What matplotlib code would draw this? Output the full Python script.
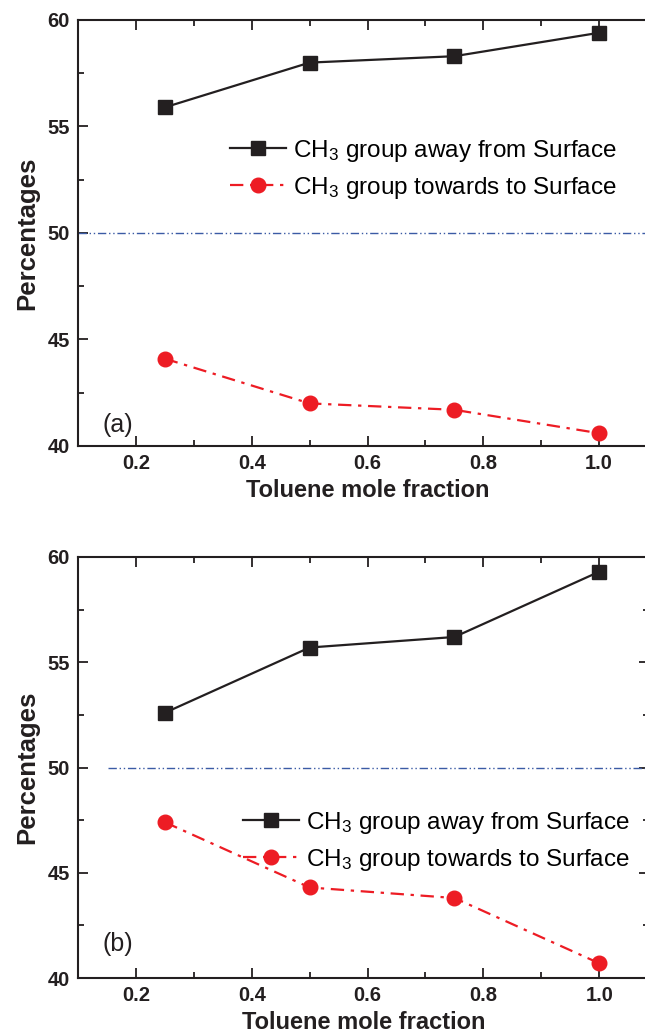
import matplotlib
matplotlib.use("Agg")
import matplotlib.pyplot as plt
from matplotlib.ticker import MultipleLocator

# ---------------------------------------------------------------------------
# Data
# ---------------------------------------------------------------------------
mole_fraction = [0.25, 0.5, 0.75, 1.0]

away_a = [55.9, 58.0, 58.3, 59.4]
towards_a = [44.1, 42.0, 41.7, 40.6]

away_b = [52.6, 55.7, 56.2, 59.3]
towards_b = [47.4, 44.3, 43.8, 40.7]

label_away = "CH$_3$ group away from Surface"
label_towards = "CH$_3$ group towards to Surface"

plt.rcParams["font.family"] = ["Liberation Sans", "DejaVu Sans"]
plt.rcParams["mathtext.default"] = "regular"

W, H = 645, 1036
BLACK = "#231f20"
RED = "#ed1c24"
BLUE = "#3b5ba5"

fig = plt.figure(figsize=(W / 100, H / 100), dpi=100)


def px_axes(left, right, top, bottom):
    return fig.add_axes([left / W, 1 - bottom / H, (right - left) / W, (bottom - top) / H])


def style_axes(ax, xmax):
    ax.set_xlim(0.1, xmax)
    ax.set_ylim(40, 60)
    ax.xaxis.set_minor_locator(MultipleLocator(0.1))
    ax.yaxis.set_minor_locator(MultipleLocator(2.5))
    ax.set_xticks([0.2, 0.4, 0.6, 0.8, 1.0])
    ax.set_xticklabels(["0.2", "0.4", "0.6", "0.8", "1.0"])
    ax.set_yticks([40, 45, 50, 55, 60])
    ax.set_yticklabels(["40", "45", "50", "55", "60"])
    ax.tick_params(which="both", direction="in", top=True, right=True,
                   width=1.3, color=BLACK)
    ax.tick_params(which="major", length=7, pad=6, labelsize=14.5)
    ax.tick_params(which="minor", length=4)
    for lab in ax.get_xticklabels() + ax.get_yticklabels():
        lab.set_fontweight("bold")
        lab.set_color(BLACK)
    for sp in ax.spines.values():
        sp.set_linewidth(1.5)
        sp.set_color(BLACK)
    ax.set_xlabel("Toluene mole fraction", fontsize=17, fontweight="bold",
                  color=BLACK, labelpad=4)
    ax.set_ylabel("Percentages", fontsize=18.5, fontweight="bold",
                  color=BLACK, labelpad=6)


def draw_panel(ax, away, towards, ref_start, tag, tag_y, leg_xy):
    ax.plot([ref_start, 1.2], [50, 50], color=BLUE, lw=1.0,
            ls=(0, (6, 2, 1, 2, 1, 2)))
    ax.plot(mole_fraction, away, "-s", color=BLACK, lw=1.6, ms=9.5,
            label=label_away, clip_on=False)
    ax.plot(mole_fraction, towards, "-.o", color=RED, lw=1.6, ms=10.5,
            label=label_towards, clip_on=False, dashes=(6, 3, 1.5, 3))
    ax.text(0.142, tag_y, tag, fontsize=18, color=BLACK, va="center")
    ax.legend(loc="upper left", frameon=False, fontsize=17.5,
              bbox_to_anchor=(leg_xy[0] / W, 1 - leg_xy[1] / H),
              bbox_transform=fig.transFigure, borderpad=0,
              handlelength=2.3, handletextpad=0.3, labelspacing=0.45,
              borderaxespad=0)


ax_a = px_axes(78, 657, 20, 446)
style_axes(ax_a, 1.1)
draw_panel(ax_a, away_a, towards_a, 0.1, "(a)", 41.0, (230, 138))

ax_b = px_axes(78, 649, 557, 978)
style_axes(ax_b, 1.086)
draw_panel(ax_b, away_b, towards_b, 0.152, "(b)", 41.6, (243, 810))

fig.savefig("out.png", dpi=100)
